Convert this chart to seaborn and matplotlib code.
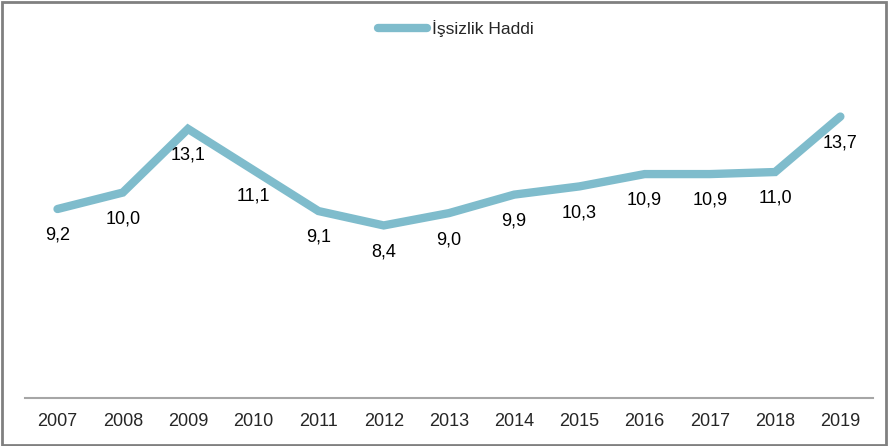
import pandas as pd
import seaborn as sns
import matplotlib.pyplot as plt
from matplotlib.patches import Rectangle

years = [2007, 2008, 2009, 2010, 2011, 2012, 2013, 2014, 2015, 2016, 2017, 2018, 2019]
rates = [9.2, 10.0, 13.1, 11.1, 9.1, 8.4, 9.0, 9.9, 10.3, 10.9, 10.9, 11.0, 13.7]
series_name = 'İşsizlik Haddi'

df = pd.DataFrame({'Yil': years, 'Oran': rates})

sns.set_style('white')
plt.rcParams['font.family'] = ['Liberation Sans', 'DejaVu Sans']

fig = plt.figure(figsize=(8.89, 4.46), dpi=100)
ax = fig.add_axes([0.028, 0.1076, 0.954, 0.737])

line_color = '#7fbccc'
sns.lineplot(x='Yil', y='Oran', data=df, ax=ax, color=line_color, linewidth=6,
             label=series_name, solid_capstyle='round', solid_joinstyle='miter')

for x, v in zip(years, rates):
    ax.annotate(f'{v:.1f}'.replace('.', ','), (x, v), xytext=(0, -19), textcoords='offset points',
                ha='center', va='center', fontsize=13, color='black')

ax.set_xlim(years[0] - 0.5, years[-1] + 0.5)
ax.set_ylim(0, 16)
ax.set_xticks(years)
ax.set_xticklabels([str(y) for y in years], fontsize=13)
ax.set_yticks([])
ax.set_xlabel('')
ax.set_ylabel('')
ax.tick_params(axis='x', length=0, pad=11)
for side in ['top', 'right', 'left']:
    ax.spines[side].set_visible(False)
ax.spines['bottom'].set_color('#a6a6a6')
ax.spines['bottom'].set_linewidth(1.5)

leg = ax.legend(loc='center', bbox_to_anchor=(0.513, 0.935), bbox_transform=fig.transFigure,
                frameon=False, fontsize=12.5, handlelength=2.8, handletextpad=0.3)

fig.patches.append(Rectangle((0.002, 0.003), 0.995, 0.993, transform=fig.transFigure,
                             fill=False, edgecolor='#808080', linewidth=2))

fig.savefig('out.png', dpi=100)
